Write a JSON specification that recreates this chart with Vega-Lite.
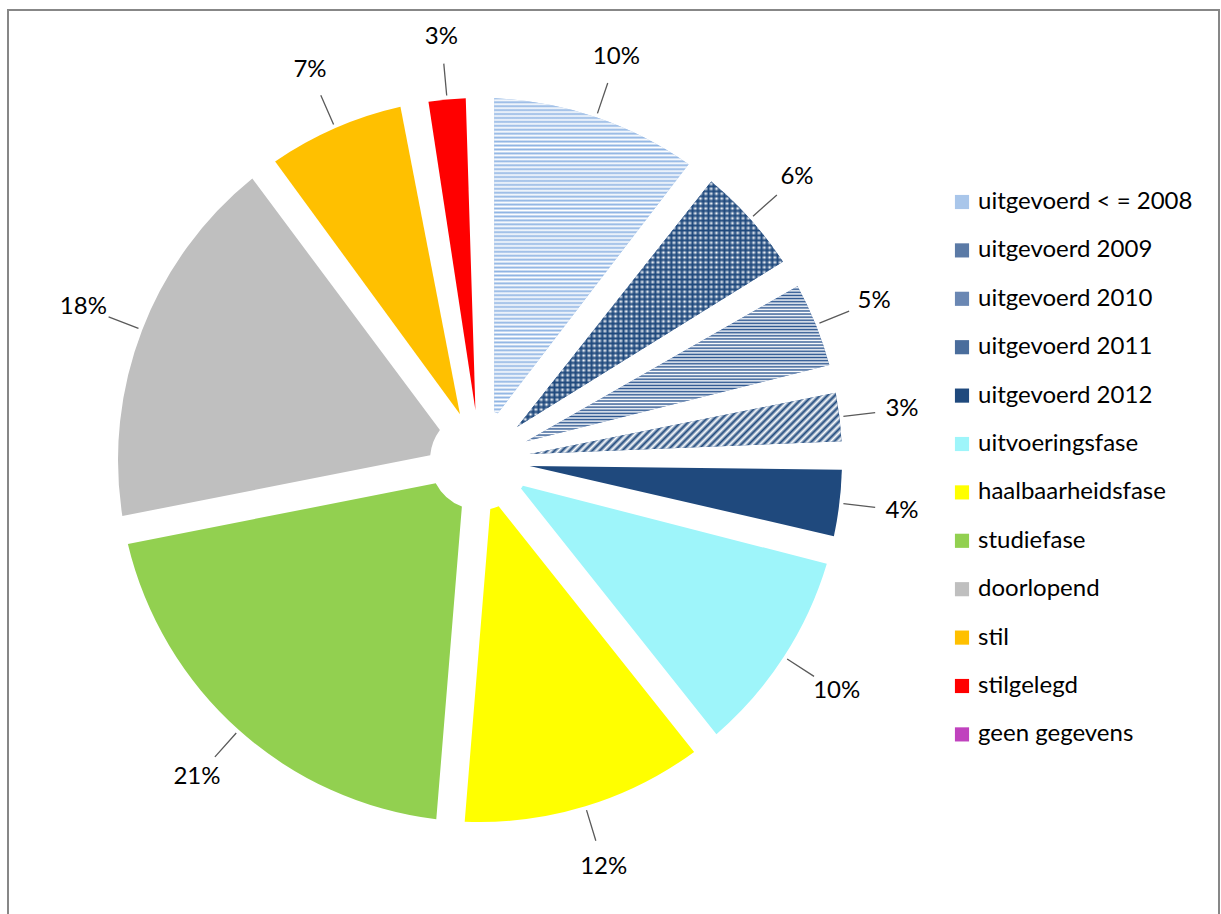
{
"$schema": "https://vega.github.io/schema/vega-lite/v6.json",
"width": 1211,
"height": 907,
"autosize": {"type": "none"},
"padding": {"left": 8, "top": 10, "right": 2, "bottom": -3},
"background": "#ffffff",
"view": {"stroke": "#878787", "strokeWidth": 2},
"config": {
  "view": {"stroke": "#878787", "strokeWidth": 2},
  "style": {"view": {"stroke": "#878787", "strokeWidth": 2}},
  "font": "Lato",
  "legend": {"orient": "none", "legendX": 942, "legendY": 180, "padding": 0, "symbolType": "square", "symbolSize": 200, "symbolStrokeWidth": 0, "labelFont": "Lato", "labelFontSize": 24, "labelColor": "#000000", "labelOffset": 4, "labelLimit": 0, "rowPadding": 24.4}
},
"data": {"values": [
  {"cat": "uitgevoerd < = 2008", "share": 0.104, "i": 1},
  {"cat": "uitgevoerd 2009", "share": 0.06, "i": 2},
  {"cat": "uitgevoerd 2010", "share": 0.05, "i": 3},
  {"cat": "uitgevoerd 2011", "share": 0.034, "i": 4},
  {"cat": "uitgevoerd 2012", "share": 0.042, "i": 5},
  {"cat": "uitvoeringsfase", "share": 0.103, "i": 6},
  {"cat": "haalbaarheidsfase", "share": 0.12, "i": 7},
  {"cat": "studiefase", "share": 0.206, "i": 8},
  {"cat": "doorlopend", "share": 0.179, "i": 9},
  {"cat": "stil", "share": 0.073, "i": 10},
  {"cat": "stilgelegd", "share": 0.029, "i": 11},
  {"cat": "geen gegevens", "share": 0, "i": 12}
]},
"encoding": {
  "theta": {"field": "share", "type": "quantitative", "stack": true},
  "order": {"field": "i", "type": "quantitative"}
},
"layer": [
  {
    "mark": {"type": "arc", "x": 472, "y": 450, "outerRadius": 362, "innerRadius": 50, "padAngle": 0.078},
    "encoding": {
      "color": {"field": "cat", "type": "nominal", "title": null,
        "scale": {"domain": ["uitgevoerd < = 2008", "uitgevoerd 2009", "uitgevoerd 2010", "uitgevoerd 2011", "uitgevoerd 2012", "uitvoeringsfase", "haalbaarheidsfase", "studiefase", "doorlopend", "stil", "stilgelegd", "geen gegevens"],
                  "range": ["#a9c6ea", "#5b7aa6", "#6a87b3", "#4a6d9c", "#1f497d", "#9ef5fa", "#ffff00", "#92d050", "#bfbfbf", "#ffc000", "#ff0000", "#c042be"]}}
    }
  },
  {
    "mark": {"type": "arc", "x": 472, "y": 450, "outerRadius": 362, "innerRadius": 50, "padAngle": 0.078},
    "encoding": {
      "detail": {"field": "cat", "type": "nominal"},
      "fill": {
        "condition": [
          {"test": "datum.cat === 'uitgevoerd < = 2008'", "value": {"gradient": "linear", "x1": 0, "y1": 0, "x2": 0, "y2": 1, "stops": [
{"offset":0,"color":"#8fb4e3"},{"offset":0.00625,"color":"#fff"},{"offset":0.0125,"color":"#8fb4e3"},{"offset":0.01875,"color":"#fff"},{"offset":0.025,"color":"#8fb4e3"},{"offset":0.03125,"color":"#fff"},{"offset":0.0375,"color":"#8fb4e3"},{"offset":0.04375,"color":"#fff"},{"offset":0.05,"color":"#8fb4e3"},{"offset":0.05625,"color":"#fff"},{"offset":0.0625,"color":"#8fb4e3"},{"offset":0.06875,"color":"#fff"},{"offset":0.075,"color":"#8fb4e3"},{"offset":0.08125,"color":"#fff"},{"offset":0.0875,"color":"#8fb4e3"},{"offset":0.09375,"color":"#fff"},
{"offset":0.1,"color":"#8fb4e3"},{"offset":0.10625,"color":"#fff"},{"offset":0.1125,"color":"#8fb4e3"},{"offset":0.11875,"color":"#fff"},{"offset":0.125,"color":"#8fb4e3"},{"offset":0.13125,"color":"#fff"},{"offset":0.1375,"color":"#8fb4e3"},{"offset":0.14375,"color":"#fff"},{"offset":0.15,"color":"#8fb4e3"},{"offset":0.15625,"color":"#fff"},{"offset":0.1625,"color":"#8fb4e3"},{"offset":0.16875,"color":"#fff"},{"offset":0.175,"color":"#8fb4e3"},{"offset":0.18125,"color":"#fff"},{"offset":0.1875,"color":"#8fb4e3"},{"offset":0.19375,"color":"#fff"},
{"offset":0.2,"color":"#8fb4e3"},{"offset":0.20625,"color":"#fff"},{"offset":0.2125,"color":"#8fb4e3"},{"offset":0.21875,"color":"#fff"},{"offset":0.225,"color":"#8fb4e3"},{"offset":0.23125,"color":"#fff"},{"offset":0.2375,"color":"#8fb4e3"},{"offset":0.24375,"color":"#fff"},{"offset":0.25,"color":"#8fb4e3"},{"offset":0.25625,"color":"#fff"},{"offset":0.2625,"color":"#8fb4e3"},{"offset":0.26875,"color":"#fff"},{"offset":0.275,"color":"#8fb4e3"},{"offset":0.28125,"color":"#fff"},{"offset":0.2875,"color":"#8fb4e3"},{"offset":0.29375,"color":"#fff"},
{"offset":0.3,"color":"#8fb4e3"},{"offset":0.30625,"color":"#fff"},{"offset":0.3125,"color":"#8fb4e3"},{"offset":0.31875,"color":"#fff"},{"offset":0.325,"color":"#8fb4e3"},{"offset":0.33125,"color":"#fff"},{"offset":0.3375,"color":"#8fb4e3"},{"offset":0.34375,"color":"#fff"},{"offset":0.35,"color":"#8fb4e3"},{"offset":0.35625,"color":"#fff"},{"offset":0.3625,"color":"#8fb4e3"},{"offset":0.36875,"color":"#fff"},{"offset":0.375,"color":"#8fb4e3"},{"offset":0.38125,"color":"#fff"},{"offset":0.3875,"color":"#8fb4e3"},{"offset":0.39375,"color":"#fff"},
{"offset":0.4,"color":"#8fb4e3"},{"offset":0.40625,"color":"#fff"},{"offset":0.4125,"color":"#8fb4e3"},{"offset":0.41875,"color":"#fff"},{"offset":0.425,"color":"#8fb4e3"},{"offset":0.43125,"color":"#fff"},{"offset":0.4375,"color":"#8fb4e3"},{"offset":0.44375,"color":"#fff"},{"offset":0.45,"color":"#8fb4e3"},{"offset":0.45625,"color":"#fff"},{"offset":0.4625,"color":"#8fb4e3"},{"offset":0.46875,"color":"#fff"},{"offset":0.475,"color":"#8fb4e3"},{"offset":0.48125,"color":"#fff"},{"offset":0.4875,"color":"#8fb4e3"},{"offset":0.49375,"color":"#fff"},
{"offset":0.5,"color":"#8fb4e3"},{"offset":0.50625,"color":"#fff"},{"offset":0.5125,"color":"#8fb4e3"},{"offset":0.51875,"color":"#fff"},{"offset":0.525,"color":"#8fb4e3"},{"offset":0.53125,"color":"#fff"},{"offset":0.5375,"color":"#8fb4e3"},{"offset":0.54375,"color":"#fff"},{"offset":0.55,"color":"#8fb4e3"},{"offset":0.55625,"color":"#fff"},{"offset":0.5625,"color":"#8fb4e3"},{"offset":0.56875,"color":"#fff"},{"offset":0.575,"color":"#8fb4e3"},{"offset":0.58125,"color":"#fff"},{"offset":0.5875,"color":"#8fb4e3"},{"offset":0.59375,"color":"#fff"},
{"offset":0.6,"color":"#8fb4e3"},{"offset":0.60625,"color":"#fff"},{"offset":0.6125,"color":"#8fb4e3"},{"offset":0.61875,"color":"#fff"},{"offset":0.625,"color":"#8fb4e3"},{"offset":0.63125,"color":"#fff"},{"offset":0.6375,"color":"#8fb4e3"},{"offset":0.64375,"color":"#fff"},{"offset":0.65,"color":"#8fb4e3"},{"offset":0.65625,"color":"#fff"},{"offset":0.6625,"color":"#8fb4e3"},{"offset":0.66875,"color":"#fff"},{"offset":0.675,"color":"#8fb4e3"},{"offset":0.68125,"color":"#fff"},{"offset":0.6875,"color":"#8fb4e3"},{"offset":0.69375,"color":"#fff"},
{"offset":0.7,"color":"#8fb4e3"},{"offset":0.70625,"color":"#fff"},{"offset":0.7125,"color":"#8fb4e3"},{"offset":0.71875,"color":"#fff"},{"offset":0.725,"color":"#8fb4e3"},{"offset":0.73125,"color":"#fff"},{"offset":0.7375,"color":"#8fb4e3"},{"offset":0.74375,"color":"#fff"},{"offset":0.75,"color":"#8fb4e3"},{"offset":0.75625,"color":"#fff"},{"offset":0.7625,"color":"#8fb4e3"},{"offset":0.76875,"color":"#fff"},{"offset":0.775,"color":"#8fb4e3"},{"offset":0.78125,"color":"#fff"},{"offset":0.7875,"color":"#8fb4e3"},{"offset":0.79375,"color":"#fff"},
{"offset":0.8,"color":"#8fb4e3"},{"offset":0.80625,"color":"#fff"},{"offset":0.8125,"color":"#8fb4e3"},{"offset":0.81875,"color":"#fff"},{"offset":0.825,"color":"#8fb4e3"},{"offset":0.83125,"color":"#fff"},{"offset":0.8375,"color":"#8fb4e3"},{"offset":0.84375,"color":"#fff"},{"offset":0.85,"color":"#8fb4e3"},{"offset":0.85625,"color":"#fff"},{"offset":0.8625,"color":"#8fb4e3"},{"offset":0.86875,"color":"#fff"},{"offset":0.875,"color":"#8fb4e3"},{"offset":0.88125,"color":"#fff"},{"offset":0.8875,"color":"#8fb4e3"},{"offset":0.89375,"color":"#fff"},
{"offset":0.9,"color":"#8fb4e3"},{"offset":0.90625,"color":"#fff"},{"offset":0.9125,"color":"#8fb4e3"},{"offset":0.91875,"color":"#fff"},{"offset":0.925,"color":"#8fb4e3"},{"offset":0.93125,"color":"#fff"},{"offset":0.9375,"color":"#8fb4e3"},{"offset":0.94375,"color":"#fff"},{"offset":0.95,"color":"#8fb4e3"},{"offset":0.95625,"color":"#fff"},{"offset":0.9625,"color":"#8fb4e3"},{"offset":0.96875,"color":"#fff"},{"offset":0.975,"color":"#8fb4e3"},{"offset":0.98125,"color":"#fff"},{"offset":0.9875,"color":"#8fb4e3"},{"offset":0.99375,"color":"#fff"},
{"offset":1,"color":"#8fb4e3"}
          ]}},
          {"test": "datum.cat === 'uitgevoerd 2009'", "value": {"gradient": "linear", "x1": 0, "y1": 0, "x2": 0, "y2": 1, "stops": [
{"offset":0,"color":"#1f497d"},{"offset":0.01,"color":"#fff"},{"offset":0.02,"color":"#1f497d"},{"offset":0.03,"color":"#fff"},{"offset":0.04,"color":"#1f497d"},{"offset":0.05,"color":"#fff"},{"offset":0.06,"color":"#1f497d"},{"offset":0.07,"color":"#fff"},{"offset":0.08,"color":"#1f497d"},{"offset":0.09,"color":"#fff"},
{"offset":0.1,"color":"#1f497d"},{"offset":0.11,"color":"#fff"},{"offset":0.12,"color":"#1f497d"},{"offset":0.13,"color":"#fff"},{"offset":0.14,"color":"#1f497d"},{"offset":0.15,"color":"#fff"},{"offset":0.16,"color":"#1f497d"},{"offset":0.17,"color":"#fff"},{"offset":0.18,"color":"#1f497d"},{"offset":0.19,"color":"#fff"},
{"offset":0.2,"color":"#1f497d"},{"offset":0.21,"color":"#fff"},{"offset":0.22,"color":"#1f497d"},{"offset":0.23,"color":"#fff"},{"offset":0.24,"color":"#1f497d"},{"offset":0.25,"color":"#fff"},{"offset":0.26,"color":"#1f497d"},{"offset":0.27,"color":"#fff"},{"offset":0.28,"color":"#1f497d"},{"offset":0.29,"color":"#fff"},
{"offset":0.3,"color":"#1f497d"},{"offset":0.31,"color":"#fff"},{"offset":0.32,"color":"#1f497d"},{"offset":0.33,"color":"#fff"},{"offset":0.34,"color":"#1f497d"},{"offset":0.35,"color":"#fff"},{"offset":0.36,"color":"#1f497d"},{"offset":0.37,"color":"#fff"},{"offset":0.38,"color":"#1f497d"},{"offset":0.39,"color":"#fff"},
{"offset":0.4,"color":"#1f497d"},{"offset":0.41,"color":"#fff"},{"offset":0.42,"color":"#1f497d"},{"offset":0.43,"color":"#fff"},{"offset":0.44,"color":"#1f497d"},{"offset":0.45,"color":"#fff"},{"offset":0.46,"color":"#1f497d"},{"offset":0.47,"color":"#fff"},{"offset":0.48,"color":"#1f497d"},{"offset":0.49,"color":"#fff"},
{"offset":0.5,"color":"#1f497d"},{"offset":0.51,"color":"#fff"},{"offset":0.52,"color":"#1f497d"},{"offset":0.53,"color":"#fff"},{"offset":0.54,"color":"#1f497d"},{"offset":0.55,"color":"#fff"},{"offset":0.56,"color":"#1f497d"},{"offset":0.57,"color":"#fff"},{"offset":0.58,"color":"#1f497d"},{"offset":0.59,"color":"#fff"},
{"offset":0.6,"color":"#1f497d"},{"offset":0.61,"color":"#fff"},{"offset":0.62,"color":"#1f497d"},{"offset":0.63,"color":"#fff"},{"offset":0.64,"color":"#1f497d"},{"offset":0.65,"color":"#fff"},{"offset":0.66,"color":"#1f497d"},{"offset":0.67,"color":"#fff"},{"offset":0.68,"color":"#1f497d"},{"offset":0.69,"color":"#fff"},
{"offset":0.7,"color":"#1f497d"},{"offset":0.71,"color":"#fff"},{"offset":0.72,"color":"#1f497d"},{"offset":0.73,"color":"#fff"},{"offset":0.74,"color":"#1f497d"},{"offset":0.75,"color":"#fff"},{"offset":0.76,"color":"#1f497d"},{"offset":0.77,"color":"#fff"},{"offset":0.78,"color":"#1f497d"},{"offset":0.79,"color":"#fff"},
{"offset":0.8,"color":"#1f497d"},{"offset":0.81,"color":"#fff"},{"offset":0.82,"color":"#1f497d"},{"offset":0.83,"color":"#fff"},{"offset":0.84,"color":"#1f497d"},{"offset":0.85,"color":"#fff"},{"offset":0.86,"color":"#1f497d"},{"offset":0.87,"color":"#fff"},{"offset":0.88,"color":"#1f497d"},{"offset":0.89,"color":"#fff"},
{"offset":0.9,"color":"#1f497d"},{"offset":0.91,"color":"#fff"},{"offset":0.92,"color":"#1f497d"},{"offset":0.93,"color":"#fff"},{"offset":0.94,"color":"#1f497d"},{"offset":0.95,"color":"#fff"},{"offset":0.96,"color":"#1f497d"},{"offset":0.97,"color":"#fff"},{"offset":0.98,"color":"#1f497d"},{"offset":0.99,"color":"#fff"},
{"offset":1,"color":"#1f497d"}
          ]}},
          {"test": "datum.cat === 'uitgevoerd 2010'", "value": {"gradient": "linear", "x1": 0, "y1": 0, "x2": 0, "y2": 1, "stops": [
{"offset":0,"color":"#2c5690"},{"offset":0.01,"color":"#fff"},{"offset":0.02,"color":"#2c5690"},{"offset":0.03,"color":"#fff"},{"offset":0.04,"color":"#2c5690"},{"offset":0.05,"color":"#fff"},{"offset":0.06,"color":"#2c5690"},{"offset":0.07,"color":"#fff"},{"offset":0.08,"color":"#2c5690"},{"offset":0.09,"color":"#fff"},
{"offset":0.1,"color":"#2c5690"},{"offset":0.11,"color":"#fff"},{"offset":0.12,"color":"#2c5690"},{"offset":0.13,"color":"#fff"},{"offset":0.14,"color":"#2c5690"},{"offset":0.15,"color":"#fff"},{"offset":0.16,"color":"#2c5690"},{"offset":0.17,"color":"#fff"},{"offset":0.18,"color":"#2c5690"},{"offset":0.19,"color":"#fff"},
{"offset":0.2,"color":"#2c5690"},{"offset":0.21,"color":"#fff"},{"offset":0.22,"color":"#2c5690"},{"offset":0.23,"color":"#fff"},{"offset":0.24,"color":"#2c5690"},{"offset":0.25,"color":"#fff"},{"offset":0.26,"color":"#2c5690"},{"offset":0.27,"color":"#fff"},{"offset":0.28,"color":"#2c5690"},{"offset":0.29,"color":"#fff"},
{"offset":0.3,"color":"#2c5690"},{"offset":0.31,"color":"#fff"},{"offset":0.32,"color":"#2c5690"},{"offset":0.33,"color":"#fff"},{"offset":0.34,"color":"#2c5690"},{"offset":0.35,"color":"#fff"},{"offset":0.36,"color":"#2c5690"},{"offset":0.37,"color":"#fff"},{"offset":0.38,"color":"#2c5690"},{"offset":0.39,"color":"#fff"},
{"offset":0.4,"color":"#2c5690"},{"offset":0.41,"color":"#fff"},{"offset":0.42,"color":"#2c5690"},{"offset":0.43,"color":"#fff"},{"offset":0.44,"color":"#2c5690"},{"offset":0.45,"color":"#fff"},{"offset":0.46,"color":"#2c5690"},{"offset":0.47,"color":"#fff"},{"offset":0.48,"color":"#2c5690"},{"offset":0.49,"color":"#fff"},
{"offset":0.5,"color":"#2c5690"},{"offset":0.51,"color":"#fff"},{"offset":0.52,"color":"#2c5690"},{"offset":0.53,"color":"#fff"},{"offset":0.54,"color":"#2c5690"},{"offset":0.55,"color":"#fff"},{"offset":0.56,"color":"#2c5690"},{"offset":0.57,"color":"#fff"},{"offset":0.58,"color":"#2c5690"},{"offset":0.59,"color":"#fff"},
{"offset":0.6,"color":"#2c5690"},{"offset":0.61,"color":"#fff"},{"offset":0.62,"color":"#2c5690"},{"offset":0.63,"color":"#fff"},{"offset":0.64,"color":"#2c5690"},{"offset":0.65,"color":"#fff"},{"offset":0.66,"color":"#2c5690"},{"offset":0.67,"color":"#fff"},{"offset":0.68,"color":"#2c5690"},{"offset":0.69,"color":"#fff"},
{"offset":0.7,"color":"#2c5690"},{"offset":0.71,"color":"#fff"},{"offset":0.72,"color":"#2c5690"},{"offset":0.73,"color":"#fff"},{"offset":0.74,"color":"#2c5690"},{"offset":0.75,"color":"#fff"},{"offset":0.76,"color":"#2c5690"},{"offset":0.77,"color":"#fff"},{"offset":0.78,"color":"#2c5690"},{"offset":0.79,"color":"#fff"},
{"offset":0.8,"color":"#2c5690"},{"offset":0.81,"color":"#fff"},{"offset":0.82,"color":"#2c5690"},{"offset":0.83,"color":"#fff"},{"offset":0.84,"color":"#2c5690"},{"offset":0.85,"color":"#fff"},{"offset":0.86,"color":"#2c5690"},{"offset":0.87,"color":"#fff"},{"offset":0.88,"color":"#2c5690"},{"offset":0.89,"color":"#fff"},
{"offset":0.9,"color":"#2c5690"},{"offset":0.91,"color":"#fff"},{"offset":0.92,"color":"#2c5690"},{"offset":0.93,"color":"#fff"},{"offset":0.94,"color":"#2c5690"},{"offset":0.95,"color":"#fff"},{"offset":0.96,"color":"#2c5690"},{"offset":0.97,"color":"#fff"},{"offset":0.98,"color":"#2c5690"},{"offset":0.99,"color":"#fff"},
{"offset":1,"color":"#2c5690"}
          ]}},
          {"test": "datum.cat === 'uitgevoerd 2011'", "value": {"gradient": "linear", "x1": 0, "y1": 0, "x2": 1.16, "y2": 0.227, "stops": [
{"offset":0,"color":"#1f497d"},{"offset":0.01,"color":"#fff"},{"offset":0.02,"color":"#1f497d"},{"offset":0.03,"color":"#fff"},{"offset":0.04,"color":"#1f497d"},{"offset":0.05,"color":"#fff"},{"offset":0.06,"color":"#1f497d"},{"offset":0.07,"color":"#fff"},{"offset":0.08,"color":"#1f497d"},{"offset":0.09,"color":"#fff"},
{"offset":0.1,"color":"#1f497d"},{"offset":0.11,"color":"#fff"},{"offset":0.12,"color":"#1f497d"},{"offset":0.13,"color":"#fff"},{"offset":0.14,"color":"#1f497d"},{"offset":0.15,"color":"#fff"},{"offset":0.16,"color":"#1f497d"},{"offset":0.17,"color":"#fff"},{"offset":0.18,"color":"#1f497d"},{"offset":0.19,"color":"#fff"},
{"offset":0.2,"color":"#1f497d"},{"offset":0.21,"color":"#fff"},{"offset":0.22,"color":"#1f497d"},{"offset":0.23,"color":"#fff"},{"offset":0.24,"color":"#1f497d"},{"offset":0.25,"color":"#fff"},{"offset":0.26,"color":"#1f497d"},{"offset":0.27,"color":"#fff"},{"offset":0.28,"color":"#1f497d"},{"offset":0.29,"color":"#fff"},
{"offset":0.3,"color":"#1f497d"},{"offset":0.31,"color":"#fff"},{"offset":0.32,"color":"#1f497d"},{"offset":0.33,"color":"#fff"},{"offset":0.34,"color":"#1f497d"},{"offset":0.35,"color":"#fff"},{"offset":0.36,"color":"#1f497d"},{"offset":0.37,"color":"#fff"},{"offset":0.38,"color":"#1f497d"},{"offset":0.39,"color":"#fff"},
{"offset":0.4,"color":"#1f497d"},{"offset":0.41,"color":"#fff"},{"offset":0.42,"color":"#1f497d"},{"offset":0.43,"color":"#fff"},{"offset":0.44,"color":"#1f497d"},{"offset":0.45,"color":"#fff"},{"offset":0.46,"color":"#1f497d"},{"offset":0.47,"color":"#fff"},{"offset":0.48,"color":"#1f497d"},{"offset":0.49,"color":"#fff"},
{"offset":0.5,"color":"#1f497d"},{"offset":0.51,"color":"#fff"},{"offset":0.52,"color":"#1f497d"},{"offset":0.53,"color":"#fff"},{"offset":0.54,"color":"#1f497d"},{"offset":0.55,"color":"#fff"},{"offset":0.56,"color":"#1f497d"},{"offset":0.57,"color":"#fff"},{"offset":0.58,"color":"#1f497d"},{"offset":0.59,"color":"#fff"},
{"offset":0.6,"color":"#1f497d"},{"offset":0.61,"color":"#fff"},{"offset":0.62,"color":"#1f497d"},{"offset":0.63,"color":"#fff"},{"offset":0.64,"color":"#1f497d"},{"offset":0.65,"color":"#fff"},{"offset":0.66,"color":"#1f497d"},{"offset":0.67,"color":"#fff"},{"offset":0.68,"color":"#1f497d"},{"offset":0.69,"color":"#fff"},
{"offset":0.7,"color":"#1f497d"},{"offset":0.71,"color":"#fff"},{"offset":0.72,"color":"#1f497d"},{"offset":0.73,"color":"#fff"},{"offset":0.74,"color":"#1f497d"},{"offset":0.75,"color":"#fff"},{"offset":0.76,"color":"#1f497d"},{"offset":0.77,"color":"#fff"},{"offset":0.78,"color":"#1f497d"},{"offset":0.79,"color":"#fff"},
{"offset":0.8,"color":"#1f497d"},{"offset":0.81,"color":"#fff"},{"offset":0.82,"color":"#1f497d"},{"offset":0.83,"color":"#fff"},{"offset":0.84,"color":"#1f497d"},{"offset":0.85,"color":"#fff"},{"offset":0.86,"color":"#1f497d"},{"offset":0.87,"color":"#fff"},{"offset":0.88,"color":"#1f497d"},{"offset":0.89,"color":"#fff"},
{"offset":0.9,"color":"#1f497d"},{"offset":0.91,"color":"#fff"},{"offset":0.92,"color":"#1f497d"},{"offset":0.93,"color":"#fff"},{"offset":0.94,"color":"#1f497d"},{"offset":0.95,"color":"#fff"},{"offset":0.96,"color":"#1f497d"},{"offset":0.97,"color":"#fff"},{"offset":0.98,"color":"#1f497d"},{"offset":0.99,"color":"#fff"},
{"offset":1,"color":"#1f497d"}
          ]}}
        ],
        "value": "transparent"
      }
    }
  },
  {
    "mark": {"type": "arc", "x": 472, "y": 450, "outerRadius": 362, "innerRadius": 50, "padAngle": 0.078},
    "encoding": {
      "detail": {"field": "cat", "type": "nominal"},
      "fill": {
        "condition": {"test": "datum.cat === 'uitgevoerd 2009'", "value": {"gradient": "linear", "x1": 0, "y1": 0, "x2": 1, "y2": 0, "stops": [
{"offset":0,"color":"#1f497d"},{"offset":0.01,"color":"rgba(31,73,125,0)"},{"offset":0.02,"color":"#1f497d"},{"offset":0.03,"color":"rgba(31,73,125,0)"},{"offset":0.04,"color":"#1f497d"},{"offset":0.05,"color":"rgba(31,73,125,0)"},{"offset":0.06,"color":"#1f497d"},{"offset":0.07,"color":"rgba(31,73,125,0)"},{"offset":0.08,"color":"#1f497d"},{"offset":0.09,"color":"rgba(31,73,125,0)"},
{"offset":0.1,"color":"#1f497d"},{"offset":0.11,"color":"rgba(31,73,125,0)"},{"offset":0.12,"color":"#1f497d"},{"offset":0.13,"color":"rgba(31,73,125,0)"},{"offset":0.14,"color":"#1f497d"},{"offset":0.15,"color":"rgba(31,73,125,0)"},{"offset":0.16,"color":"#1f497d"},{"offset":0.17,"color":"rgba(31,73,125,0)"},{"offset":0.18,"color":"#1f497d"},{"offset":0.19,"color":"rgba(31,73,125,0)"},
{"offset":0.2,"color":"#1f497d"},{"offset":0.21,"color":"rgba(31,73,125,0)"},{"offset":0.22,"color":"#1f497d"},{"offset":0.23,"color":"rgba(31,73,125,0)"},{"offset":0.24,"color":"#1f497d"},{"offset":0.25,"color":"rgba(31,73,125,0)"},{"offset":0.26,"color":"#1f497d"},{"offset":0.27,"color":"rgba(31,73,125,0)"},{"offset":0.28,"color":"#1f497d"},{"offset":0.29,"color":"rgba(31,73,125,0)"},
{"offset":0.3,"color":"#1f497d"},{"offset":0.31,"color":"rgba(31,73,125,0)"},{"offset":0.32,"color":"#1f497d"},{"offset":0.33,"color":"rgba(31,73,125,0)"},{"offset":0.34,"color":"#1f497d"},{"offset":0.35,"color":"rgba(31,73,125,0)"},{"offset":0.36,"color":"#1f497d"},{"offset":0.37,"color":"rgba(31,73,125,0)"},{"offset":0.38,"color":"#1f497d"},{"offset":0.39,"color":"rgba(31,73,125,0)"},
{"offset":0.4,"color":"#1f497d"},{"offset":0.41,"color":"rgba(31,73,125,0)"},{"offset":0.42,"color":"#1f497d"},{"offset":0.43,"color":"rgba(31,73,125,0)"},{"offset":0.44,"color":"#1f497d"},{"offset":0.45,"color":"rgba(31,73,125,0)"},{"offset":0.46,"color":"#1f497d"},{"offset":0.47,"color":"rgba(31,73,125,0)"},{"offset":0.48,"color":"#1f497d"},{"offset":0.49,"color":"rgba(31,73,125,0)"},
{"offset":0.5,"color":"#1f497d"},{"offset":0.51,"color":"rgba(31,73,125,0)"},{"offset":0.52,"color":"#1f497d"},{"offset":0.53,"color":"rgba(31,73,125,0)"},{"offset":0.54,"color":"#1f497d"},{"offset":0.55,"color":"rgba(31,73,125,0)"},{"offset":0.56,"color":"#1f497d"},{"offset":0.57,"color":"rgba(31,73,125,0)"},{"offset":0.58,"color":"#1f497d"},{"offset":0.59,"color":"rgba(31,73,125,0)"},
{"offset":0.6,"color":"#1f497d"},{"offset":0.61,"color":"rgba(31,73,125,0)"},{"offset":0.62,"color":"#1f497d"},{"offset":0.63,"color":"rgba(31,73,125,0)"},{"offset":0.64,"color":"#1f497d"},{"offset":0.65,"color":"rgba(31,73,125,0)"},{"offset":0.66,"color":"#1f497d"},{"offset":0.67,"color":"rgba(31,73,125,0)"},{"offset":0.68,"color":"#1f497d"},{"offset":0.69,"color":"rgba(31,73,125,0)"},
{"offset":0.7,"color":"#1f497d"},{"offset":0.71,"color":"rgba(31,73,125,0)"},{"offset":0.72,"color":"#1f497d"},{"offset":0.73,"color":"rgba(31,73,125,0)"},{"offset":0.74,"color":"#1f497d"},{"offset":0.75,"color":"rgba(31,73,125,0)"},{"offset":0.76,"color":"#1f497d"},{"offset":0.77,"color":"rgba(31,73,125,0)"},{"offset":0.78,"color":"#1f497d"},{"offset":0.79,"color":"rgba(31,73,125,0)"},
{"offset":0.8,"color":"#1f497d"},{"offset":0.81,"color":"rgba(31,73,125,0)"},{"offset":0.82,"color":"#1f497d"},{"offset":0.83,"color":"rgba(31,73,125,0)"},{"offset":0.84,"color":"#1f497d"},{"offset":0.85,"color":"rgba(31,73,125,0)"},{"offset":0.86,"color":"#1f497d"},{"offset":0.87,"color":"rgba(31,73,125,0)"},{"offset":0.88,"color":"#1f497d"},{"offset":0.89,"color":"rgba(31,73,125,0)"},
{"offset":0.9,"color":"#1f497d"},{"offset":0.91,"color":"rgba(31,73,125,0)"},{"offset":0.92,"color":"#1f497d"},{"offset":0.93,"color":"rgba(31,73,125,0)"},{"offset":0.94,"color":"#1f497d"},{"offset":0.95,"color":"rgba(31,73,125,0)"},{"offset":0.96,"color":"#1f497d"},{"offset":0.97,"color":"rgba(31,73,125,0)"},{"offset":0.98,"color":"#1f497d"},{"offset":0.99,"color":"rgba(31,73,125,0)"},
{"offset":1,"color":"#1f497d"}
        ]}},
        "value": "transparent"
      }
    }
  },
  {
    "mark": {"type": "arc", "x": 472, "y": 450, "outerRadius": 398, "innerRadius": 366, "padAngle": 1.6, "fill": "transparent", "strokeWidth": 1.3},
    "encoding": {
      "detail": {"field": "cat", "type": "nominal"},
      "stroke": {"condition": {"test": "datum.share === 0", "value": "transparent"}, "value": "#5a5a5a"}
    }
  },
  {
    "mark": {"type": "text", "x": 472, "y": 450, "radius": 425, "font": "Lato", "fontSize": 24, "color": "#000000", "align": "center", "baseline": "middle"},
    "encoding": {
      "detail": {"field": "cat", "type": "nominal"},
      "text": {"condition": {"test": "datum.share === 0", "value": ""}, "field": "share", "type": "quantitative", "format": ".0%"}
    }
  }
]
}
